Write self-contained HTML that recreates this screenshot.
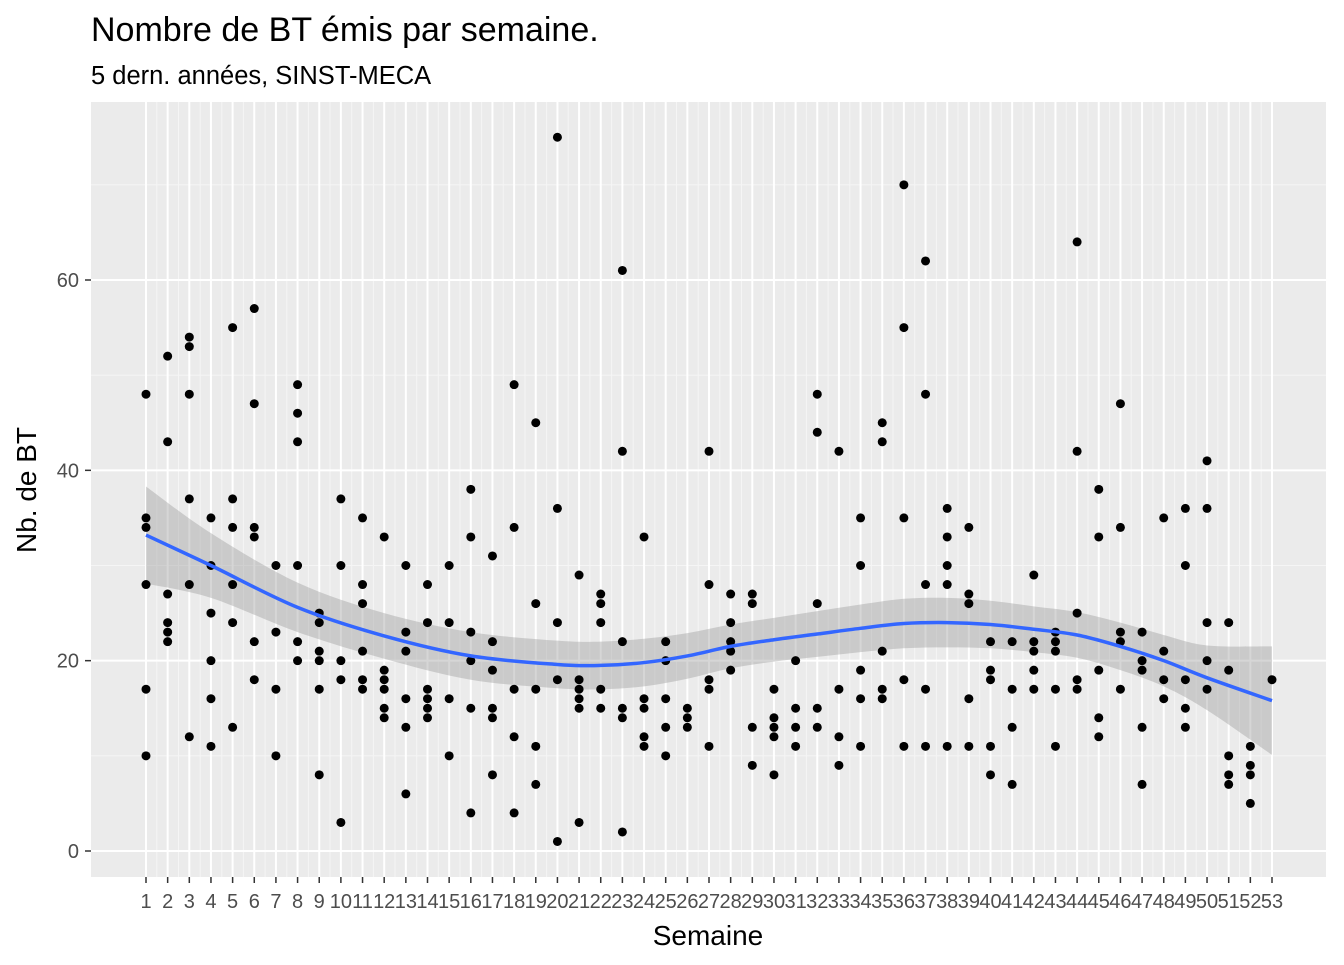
<!DOCTYPE html>
<html><head><meta charset="utf-8"><style>
body{margin:0;background:#fff;font-family:"Liberation Sans",Arial,sans-serif}
svg text{font-family:"Liberation Sans",Arial,sans-serif}
</style></head><body>
<svg id="chart" width="1344" height="960" xmlns="http://www.w3.org/2000/svg">
<rect width="1344" height="960" fill="#fff"/>
<text x="91" y="41" font-size="34" fill="#000">Nombre de BT émis par semaine.</text>
<text x="91" y="84" font-size="25.5" fill="#000">5 dern. années, SINST-MECA</text>
<rect x="91" y="102" width="1235" height="775" fill="#EBEBEB"/>
<g id="grid"></g><g id="band"></g><g id="points"></g><g id="smooth"></g><g id="axes"></g>
<text x="708" y="945" font-size="28" text-anchor="middle">Semaine</text>
<text transform="translate(36,490) rotate(-90)" font-size="28" text-anchor="middle">Nb. de BT</text>
</svg>
<script>
const weeks=[];for(let i=1;i<=53;i++)weeks.push(i);
const counts=[
[48,35,34,28,17,10],[52,43,27,24,23,22],[54,53,48,37,28,12],[35,30,25,20,16,11],[55,37,34,28,24,13],
[57,47,34,33,22,18],[30,23,17,10],[49,46,43,30,22,20],[25,24,21,20,17,8],[37,30,20,18,3],
[35,28,26,21,18,17],[33,19,18,17,15,14],[30,23,21,16,13,6],[28,24,17,16,15,14],[30,24,16,10],
[38,33,23,20,15,4],[31,22,19,15,14,8],[49,34,17,12,4],[45,26,17,11,7],[75,36,24,18,1],
[29,18,17,16,15,3],[27,26,24,17,15],[61,42,22,15,14,2],[33,16,15,12,11],[22,20,16,13,10],
[15,14,13],[42,28,18,17,11],[27,24,22,21,19],[27,26,13,9],[17,14,13,12,8],
[20,15,13,11],[48,44,26,15,13],[42,17,12,9],[35,30,19,16,11],[45,43,21,17,16],
[70,55,35,18,11],[62,48,28,17,11],[36,33,30,28,11],[34,27,26,16,11],[22,19,18,11,8],
[22,17,13,7],[29,22,21,19,17],[23,22,21,17,11],[64,42,25,18,17],[38,33,19,14,12],
[47,34,23,22,17],[23,20,19,13,7],[35,21,18,16],[36,30,18,15,13],[41,36,24,20,17],
[24,19,10,8,7],[11,9,8,5],[18]];
const smoothWeeks=[1,4,8,12,16,20,22,24,26,28,30,32,34,36,38,40,42,44,46,48,50,53];
const smoothFit=[33.2,30,25.6,22.6,20.5,19.6,19.5,19.8,20.5,21.5,22.2,22.8,23.4,23.9,24,23.8,23.3,22.7,21.5,20,18.2,15.8];
const smoothSE=[5.1,3.4,2.6,2.4,2.5,2.5,2.5,2.5,2.4,2.3,2.3,2.4,2.5,2.6,2.6,2.5,2.4,2.4,2.5,2.7,3.4,5.7];
const yTicks=[0,20,40,60];
const NS='http://www.w3.org/2000/svg';
const X=w=>146+(w-1)*(1126/52);
const Y=v=>851-v*(571/60);
function mk(tag,attrs,parent){const e=document.createElementNS(NS,tag);for(const k in attrs)e.setAttribute(k,attrs[k]);document.getElementById(parent).appendChild(e);return e;}
for(let v=10;v<=70;v+=20){const g=mk('line',{x1:91,x2:1326,y1:Y(v),y2:Y(v),stroke:'#F5F5F5','stroke-width':1},'grid');}
for(let i=0;i<weeks.length-1;i++){const g=mk('line',{x1:(X(weeks[i])+X(weeks[i+1]))/2,x2:(X(weeks[i])+X(weeks[i+1]))/2,y1:102,y2:877,stroke:'#F5F5F5','stroke-width':1},'grid');}
yTicks.forEach(v=>{const g=mk('line',{x1:91,x2:1326,y1:Y(v),y2:Y(v),stroke:'#fff','stroke-width':2},'grid');
const t=mk('line',{x1:85,x2:91,y1:Y(v),y2:Y(v),stroke:'#333','stroke-width':1.5},'axes');
const l=mk('text',{x:79,y:Y(v)+7,'font-size':20,fill:'#4D4D4D','text-anchor':'end'},'axes');l.textContent=v;});
weeks.forEach(w=>{const g=mk('line',{x1:X(w),x2:X(w),y1:102,y2:877,stroke:'#fff','stroke-width':2},'grid');
const t=mk('line',{x1:X(w),x2:X(w),y1:877,y2:883,stroke:'#333','stroke-width':1.5},'axes');
const l=mk('text',{x:X(w),y:908,'font-size':20,fill:'#4D4D4D','text-anchor':'middle'},'axes');l.textContent=w;});
function curve(pts){let d='M'+pts[0][0]+','+pts[0][1];for(let i=0;i<pts.length-1;i++){const p0=pts[i-1]||pts[i],p1=pts[i],p2=pts[i+1],p3=pts[i+2]||p2;
d+=' C'+(p1[0]+(p2[0]-p0[0])/6)+','+(p1[1]+(p2[1]-p0[1])/6)+' '+(p2[0]-(p3[0]-p1[0])/6)+','+(p2[1]-(p3[1]-p1[1])/6)+' '+p2[0]+','+p2[1];}return d;}
const up=smoothWeeks.map((w,i)=>[X(w),Y(smoothFit[i]+smoothSE[i])]);
const lo=smoothWeeks.map((w,i)=>[X(w),Y(smoothFit[i]-smoothSE[i])]).reverse();
const bd=curve(up)+' L'+curve(lo).slice(1)+' Z';
const band=mk('path',{d:bd,fill:'#999',opacity:0.4},'band');
counts.forEach((arr,i)=>arr.forEach(v=>{const c=mk('circle',{cx:X(weeks[i]),cy:Y(v),r:4.5,fill:'#000'},'points');}));
const line=mk('path',{d:curve(smoothWeeks.map((w,i)=>[X(w),Y(smoothFit[i])])),fill:'none',stroke:'#3366FF','stroke-width':3.5},'smooth');


</script>
</body></html>
